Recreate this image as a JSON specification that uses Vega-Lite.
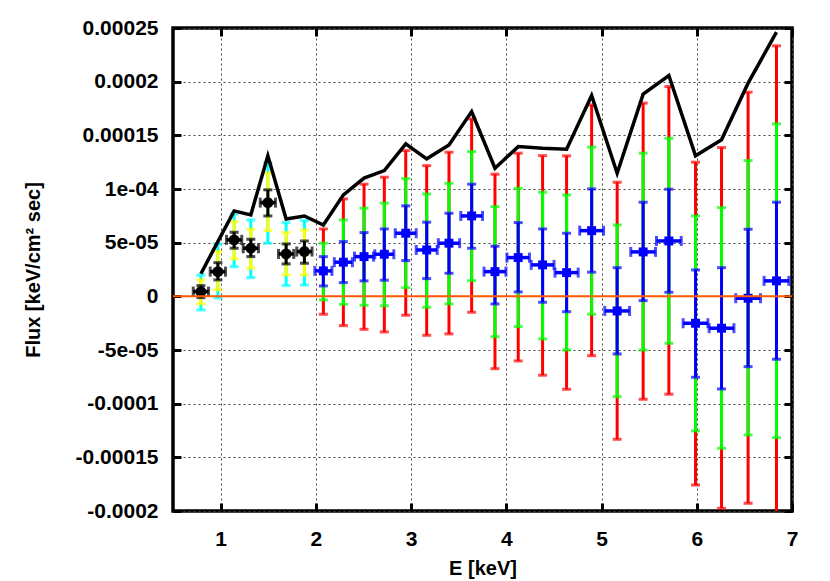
{
  "$schema": "https://vega.github.io/schema/vega-lite/v6.json",
  "width": 619,
  "height": 483,
  "autosize": "none",
  "padding": {"left": 173, "top": 28, "right": 38, "bottom": 70},
  "background": "white",
  "datasets": {
    "vbars": [
      {"E": 0.793, "lo": -1.27e-5, "hi": 1.99e-5, "s": "c"},
      {"E": 0.971, "lo": -0.15e-5, "hi": 4.88e-5, "s": "c"},
      {"E": 1.142, "lo": 2.77e-5, "hi": 7.68e-5, "s": "c"},
      {"E": 1.317, "lo": 1.74e-5, "hi": 7.12e-5, "s": "c"},
      {"E": 1.496, "lo": 4.95e-5, "hi": 12.46e-5, "s": "c"},
      {"E": 1.688, "lo": 1.00e-5, "hi": 6.87e-5, "s": "c"},
      {"E": 1.880, "lo": 1.06e-5, "hi": 7.06e-5, "s": "c"},
      {"E": 0.793, "lo": -0.71e-5, "hi": 1.53e-5, "s": "y"},
      {"E": 0.971, "lo": 0.60e-5, "hi": 4.17e-5, "s": "y"},
      {"E": 1.142, "lo": 3.49e-5, "hi": 6.96e-5, "s": "y"},
      {"E": 1.317, "lo": 2.62e-5, "hi": 6.25e-5, "s": "y"},
      {"E": 1.496, "lo": 6.12e-5, "hi": 11.50e-5, "s": "y"},
      {"E": 1.688, "lo": 1.99e-5, "hi": 5.94e-5, "s": "y"},
      {"E": 1.880, "lo": 1.99e-5, "hi": 6.19e-5, "s": "y"},
      {"E": 0.793, "lo": -0.12e-5, "hi": 1.00e-5, "s": "k"},
      {"E": 0.971, "lo": 1.53e-5, "hi": 3.14e-5, "s": "k"},
      {"E": 1.142, "lo": 4.48e-5, "hi": 5.97e-5, "s": "k"},
      {"E": 1.317, "lo": 3.70e-5, "hi": 5.32e-5, "s": "k"},
      {"E": 1.496, "lo": 7.49e-5, "hi": 9.92e-5, "s": "k"},
      {"E": 1.688, "lo": 3.02e-5, "hi": 4.88e-5, "s": "k"},
      {"E": 1.880, "lo": 3.08e-5, "hi": 5.16e-5, "s": "k"},
      {"E": 2.079, "lo": -1.67e-5, "hi": 6.28e-5, "s": "r"},
      {"E": 2.289, "lo": -2.73e-5, "hi": 9.08e-5, "s": "r"},
      {"E": 2.506, "lo": -3.07e-5, "hi": 10.45e-5, "s": "r"},
      {"E": 2.719, "lo": -3.32e-5, "hi": 11.10e-5, "s": "r"},
      {"E": 2.944, "lo": -1.76e-5, "hi": 13.58e-5, "s": "r"},
      {"E": 3.164, "lo": -3.63e-5, "hi": 12.18e-5, "s": "r"},
      {"E": 3.398, "lo": -3.50e-5, "hi": 13.43e-5, "s": "r"},
      {"E": 3.636, "lo": -1.48e-5, "hi": 16.53e-5, "s": "r"},
      {"E": 3.881, "lo": -6.74e-5, "hi": 11.38e-5, "s": "r"},
      {"E": 4.125, "lo": -6.02e-5, "hi": 13.34e-5, "s": "r"},
      {"E": 4.381, "lo": -7.35e-5, "hi": 13.11e-5, "s": "r"},
      {"E": 4.633, "lo": -8.66e-5, "hi": 13.09e-5, "s": "r"},
      {"E": 4.896, "lo": -5.53e-5, "hi": 17.84e-5, "s": "r"},
      {"E": 5.164, "lo": -13.32e-5, "hi": 10.63e-5, "s": "r"},
      {"E": 5.437, "lo": -9.59e-5, "hi": 18.00e-5, "s": "r"},
      {"E": 5.707, "lo": -9.12e-5, "hi": 19.54e-5, "s": "r"},
      {"E": 5.987, "lo": -17.58e-5, "hi": 12.50e-5, "s": "r"},
      {"E": 6.260, "lo": -19.75e-5, "hi": 13.86e-5, "s": "r"},
      {"E": 6.539, "lo": -19.28e-5, "hi": 19.02e-5, "s": "r"},
      {"E": 6.837, "lo": -20.46e-5, "hi": 23.34e-5, "s": "r"},
      {"E": 2.079, "lo": -0.34e-5, "hi": 4.95e-5, "s": "g"},
      {"E": 2.289, "lo": -0.74e-5, "hi": 7.12e-5, "s": "g"},
      {"E": 2.506, "lo": -0.83e-5, "hi": 8.21e-5, "s": "g"},
      {"E": 2.719, "lo": -0.89e-5, "hi": 8.68e-5, "s": "g"},
      {"E": 2.944, "lo": 0.81e-5, "hi": 10.97e-5, "s": "g"},
      {"E": 3.164, "lo": -1.02e-5, "hi": 9.54e-5, "s": "g"},
      {"E": 3.398, "lo": -0.71e-5, "hi": 10.54e-5, "s": "g"},
      {"E": 3.636, "lo": 1.46e-5, "hi": 13.49e-5, "s": "g"},
      {"E": 3.881, "lo": -3.76e-5, "hi": 8.36e-5, "s": "g"},
      {"E": 4.125, "lo": -2.82e-5, "hi": 10.07e-5, "s": "g"},
      {"E": 4.381, "lo": -3.97e-5, "hi": 9.70e-5, "s": "g"},
      {"E": 4.633, "lo": -5.00e-5, "hi": 9.45e-5, "s": "g"},
      {"E": 4.896, "lo": -1.67e-5, "hi": 13.90e-5, "s": "g"},
      {"E": 5.164, "lo": -9.35e-5, "hi": 6.65e-5, "s": "g"},
      {"E": 5.437, "lo": -5.00e-5, "hi": 13.34e-5, "s": "g"},
      {"E": 5.707, "lo": -4.37e-5, "hi": 14.73e-5, "s": "g"},
      {"E": 5.987, "lo": -12.54e-5, "hi": 7.49e-5, "s": "g"},
      {"E": 6.260, "lo": -14.16e-5, "hi": 8.27e-5, "s": "g"},
      {"E": 6.539, "lo": -12.92e-5, "hi": 12.65e-5, "s": "g"},
      {"E": 6.837, "lo": -13.17e-5, "hi": 16.07e-5, "s": "g"},
      {"E": 2.079, "lo": 0.97e-5, "hi": 3.70e-5, "s": "b"},
      {"E": 2.289, "lo": 1.28e-5, "hi": 5.10e-5, "s": "b"},
      {"E": 2.506, "lo": 1.44e-5, "hi": 5.94e-5, "s": "b"},
      {"E": 2.719, "lo": 1.50e-5, "hi": 6.28e-5, "s": "b"},
      {"E": 2.944, "lo": 3.33e-5, "hi": 8.43e-5, "s": "b"},
      {"E": 3.164, "lo": 1.65e-5, "hi": 6.91e-5, "s": "b"},
      {"E": 3.398, "lo": 2.15e-5, "hi": 7.74e-5, "s": "b"},
      {"E": 3.636, "lo": 4.48e-5, "hi": 10.45e-5, "s": "b"},
      {"E": 3.881, "lo": -0.71e-5, "hi": 4.67e-5, "s": "b"},
      {"E": 4.125, "lo": 0.41e-5, "hi": 6.87e-5, "s": "b"},
      {"E": 4.381, "lo": -0.55e-5, "hi": 6.28e-5, "s": "b"},
      {"E": 4.633, "lo": -1.43e-5, "hi": 5.88e-5, "s": "b"},
      {"E": 4.896, "lo": 2.25e-5, "hi": 10.01e-5, "s": "b"},
      {"E": 5.164, "lo": -5.37e-5, "hi": 2.67e-5, "s": "b"},
      {"E": 5.437, "lo": -0.40e-5, "hi": 8.77e-5, "s": "b"},
      {"E": 5.707, "lo": 0.38e-5, "hi": 9.98e-5, "s": "b"},
      {"E": 5.987, "lo": -7.54e-5, "hi": 2.46e-5, "s": "b"},
      {"E": 6.260, "lo": -8.63e-5, "hi": 2.67e-5, "s": "b"},
      {"E": 6.539, "lo": -6.55e-5, "hi": 6.25e-5, "s": "b"},
      {"E": 6.837, "lo": -5.86e-5, "hi": 8.77e-5, "s": "b"}
    ],
    "pts": [
      {"E": 0.793, "Elo": 0.713, "Ehi": 0.873, "F": 0.44e-5, "s": "k"},
      {"E": 0.971, "Elo": 0.891, "Ehi": 1.051, "F": 2.30e-5, "s": "k"},
      {"E": 1.142, "Elo": 1.062, "Ehi": 1.222, "F": 5.26e-5, "s": "k"},
      {"E": 1.317, "Elo": 1.237, "Ehi": 1.397, "F": 4.48e-5, "s": "k"},
      {"E": 1.496, "Elo": 1.416, "Ehi": 1.576, "F": 8.73e-5, "s": "k"},
      {"E": 1.688, "Elo": 1.608, "Ehi": 1.768, "F": 3.95e-5, "s": "k"},
      {"E": 1.880, "Elo": 1.800, "Ehi": 1.960, "F": 4.17e-5, "s": "k"},
      {"E": 2.079, "Elo": 1.989, "Ehi": 2.169, "F": 2.37e-5, "s": "b"},
      {"E": 2.289, "Elo": 2.194, "Ehi": 2.384, "F": 3.18e-5, "s": "b"},
      {"E": 2.506, "Elo": 2.406, "Ehi": 2.606, "F": 3.70e-5, "s": "b"},
      {"E": 2.719, "Elo": 2.619, "Ehi": 2.819, "F": 3.92e-5, "s": "b"},
      {"E": 2.944, "Elo": 2.834, "Ehi": 3.054, "F": 5.88e-5, "s": "b"},
      {"E": 3.164, "Elo": 3.054, "Ehi": 3.274, "F": 4.32e-5, "s": "b"},
      {"E": 3.398, "Elo": 3.286, "Ehi": 3.510, "F": 4.95e-5, "s": "b"},
      {"E": 3.636, "Elo": 3.522, "Ehi": 3.750, "F": 7.49e-5, "s": "b"},
      {"E": 3.881, "Elo": 3.766, "Ehi": 3.996, "F": 2.30e-5, "s": "b"},
      {"E": 4.125, "Elo": 4.007, "Ehi": 4.243, "F": 3.61e-5, "s": "b"},
      {"E": 4.381, "Elo": 4.261, "Ehi": 4.501, "F": 2.93e-5, "s": "b"},
      {"E": 4.633, "Elo": 4.511, "Ehi": 4.755, "F": 2.21e-5, "s": "b"},
      {"E": 4.896, "Elo": 4.771, "Ehi": 5.021, "F": 6.12e-5, "s": "b"},
      {"E": 5.164, "Elo": 5.034, "Ehi": 5.294, "F": -1.36e-5, "s": "b"},
      {"E": 5.437, "Elo": 5.307, "Ehi": 5.567, "F": 4.14e-5, "s": "b"},
      {"E": 5.707, "Elo": 5.577, "Ehi": 5.837, "F": 5.16e-5, "s": "b"},
      {"E": 5.987, "Elo": 5.857, "Ehi": 6.117, "F": -2.51e-5, "s": "b"},
      {"E": 6.260, "Elo": 6.130, "Ehi": 6.390, "F": -2.97e-5, "s": "b"},
      {"E": 6.539, "Elo": 6.409, "Ehi": 6.669, "F": -0.18e-5, "s": "b"},
      {"E": 6.837, "Elo": 6.707, "Ehi": 6.967, "F": 1.44e-5, "s": "b"}
    ],
    "model": [
      {"E": 0.793, "F": 2.1e-5},
      {"E": 0.971, "F": 5.1e-5},
      {"E": 1.142, "F": 7.96e-5},
      {"E": 1.317, "F": 7.59e-5},
      {"E": 1.496, "F": 13.09e-5},
      {"E": 1.688, "F": 7.21e-5},
      {"E": 1.880, "F": 7.49e-5},
      {"E": 2.079, "F": 6.65e-5},
      {"E": 2.289, "F": 9.45e-5},
      {"E": 2.506, "F": 11.01e-5},
      {"E": 2.719, "F": 11.72e-5},
      {"E": 2.944, "F": 14.20e-5},
      {"E": 3.164, "F": 12.81e-5},
      {"E": 3.398, "F": 14.11e-5},
      {"E": 3.636, "F": 17.21e-5},
      {"E": 3.881, "F": 11.94e-5},
      {"E": 4.125, "F": 13.95e-5},
      {"E": 4.381, "F": 13.80e-5},
      {"E": 4.633, "F": 13.71e-5},
      {"E": 4.896, "F": 18.71e-5},
      {"E": 5.164, "F": 11.47e-5},
      {"E": 5.437, "F": 18.84e-5},
      {"E": 5.707, "F": 20.57e-5},
      {"E": 5.987, "F": 13.09e-5},
      {"E": 6.260, "F": 14.58e-5},
      {"E": 6.539, "F": 19.86e-5},
      {"E": 6.837, "F": 24.61e-5}
    ],
    "zero": [{"F": 0}]
  },
  "resolve": {"axis": {"x": "independent", "y": "independent"}},
  "layer": [
    {
      "data": {"name": "vbars"},
      "mark": {"type": "rule", "strokeWidth": 3, "clip": true},
      "encoding": {
        "x": {"field": "E", "type": "quantitative",
          "scale": {"domain": [0.5, 7], "nice": false, "zero": false},
          "axis": {"orient": "bottom", "values": [1, 2, 3, 4, 5, 6, 7], "title": "E [keV]",
            "grid": true, "ticks": true, "tickSize": -8, "labelPadding": 25, "domain": false, "titlePadding": 9}},
        "y": {"field": "lo", "type": "quantitative",
          "scale": {"domain": [-0.0002, 0.00025], "nice": false, "zero": false},
          "axis": {"orient": "left", "title": "Flux [keV/cm² sec]",
            "values": [-0.0002, -0.00015, -0.0001, -0.00005, 0, 0.00005, 0.0001, 0.00015, 0.0002, 0.00025],
            "labelExpr": "datum.value > 0.000225 ? '0.00025' : datum.value > 0.000175 ? '0.0002' : datum.value > 0.000125 ? '0.00015' : datum.value > 0.000075 ? '1e-04' : datum.value > 0.000025 ? '5e-05' : datum.value > -0.000025 ? '0' : datum.value > -0.000075 ? '-5e-05' : datum.value > -0.000125 ? '-0.0001' : datum.value > -0.000175 ? '-0.00015' : '-0.0002'",
            "grid": true, "ticks": true, "tickSize": -8, "labelPadding": 23, "domain": false, "titlePadding": 32}},
        "y2": {"field": "hi"},
        "color": {"field": "s", "type": "nominal", "legend": null,
          "scale": {"domain": ["c", "y", "k", "r", "g", "b"], "range": ["#00ffff", "#ffff00", "#000000", "#ff0000", "#00ff00", "#0000ff"]}}
      }
    },
    {
      "data": {"name": "vbars"},
      "transform": [{"fold": ["lo", "hi"], "as": ["end", "val"]}],
      "mark": {"type": "tick", "orient": "horizontal", "size": 9, "thickness": 3, "clip": true},
      "encoding": {
        "x": {"field": "E", "type": "quantitative", "scale": {"domain": [0.5, 7], "nice": false, "zero": false}, "axis": null},
        "y": {"field": "val", "type": "quantitative", "scale": {"domain": [-0.0002, 0.00025], "nice": false, "zero": false}, "axis": null},
        "color": {"field": "s", "type": "nominal", "legend": null,
          "scale": {"domain": ["c", "y", "k", "r", "g", "b"], "range": ["#00ffff", "#ffff00", "#000000", "#ff0000", "#00ff00", "#0000ff"]}}
      }
    },
    {
      "data": {"name": "pts"},
      "mark": {"type": "rule", "strokeWidth": 3.5, "clip": true},
      "encoding": {
        "x": {"field": "Elo", "type": "quantitative", "scale": {"domain": [0.5, 7], "nice": false, "zero": false}, "axis": null},
        "x2": {"field": "Ehi"},
        "y": {"field": "F", "type": "quantitative", "scale": {"domain": [-0.0002, 0.00025], "nice": false, "zero": false}, "axis": null},
        "color": {"field": "s", "type": "nominal", "legend": null,
          "scale": {"domain": ["c", "y", "k", "r", "g", "b"], "range": ["#00ffff", "#ffff00", "#000000", "#ff0000", "#00ff00", "#0000ff"]}}
      }
    },
    {
      "data": {"name": "pts"},
      "transform": [{"fold": ["Elo", "Ehi"], "as": ["end", "val"]}],
      "mark": {"type": "tick", "orient": "vertical", "size": 10, "thickness": 3, "clip": true},
      "encoding": {
        "x": {"field": "val", "type": "quantitative", "scale": {"domain": [0.5, 7], "nice": false, "zero": false}, "axis": null},
        "y": {"field": "F", "type": "quantitative", "scale": {"domain": [-0.0002, 0.00025], "nice": false, "zero": false}, "axis": null},
        "color": {"field": "s", "type": "nominal", "legend": null,
          "scale": {"domain": ["c", "y", "k", "r", "g", "b"], "range": ["#00ffff", "#ffff00", "#000000", "#ff0000", "#00ff00", "#0000ff"]}}
      }
    },
    {
      "data": {"name": "pts"},
      "mark": {"type": "point", "filled": true, "opacity": 1, "clip": true},
      "encoding": {
        "x": {"field": "E", "type": "quantitative", "scale": {"domain": [0.5, 7], "nice": false, "zero": false}, "axis": null},
        "y": {"field": "F", "type": "quantitative", "scale": {"domain": [-0.0002, 0.00025], "nice": false, "zero": false}, "axis": null},
        "shape": {"field": "s", "type": "nominal", "legend": null, "scale": {"domain": ["k", "b"], "range": ["circle", "square"]}},
        "size": {"field": "s", "type": "nominal", "legend": null, "scale": {"domain": ["k", "b"], "range": [120, 80]}},
        "color": {"field": "s", "type": "nominal", "legend": null,
          "scale": {"domain": ["c", "y", "k", "r", "g", "b"], "range": ["#00ffff", "#ffff00", "#000000", "#ff0000", "#00ff00", "#0000ff"]}}
      }
    },
    {
      "data": {"name": "zero"},
      "mark": {"type": "rule", "color": "#ff5a00", "strokeWidth": 2},
      "encoding": {
        "y": {"field": "F", "type": "quantitative", "scale": {"domain": [-0.0002, 0.00025], "nice": false, "zero": false}, "axis": null}
      }
    },
    {
      "data": {"name": "model"},
      "mark": {"type": "line", "color": "black", "strokeWidth": 3.5, "clip": true},
      "encoding": {
        "x": {"field": "E", "type": "quantitative", "scale": {"domain": [0.5, 7], "nice": false, "zero": false},
          "axis": {"orient": "top", "values": [1, 2, 3, 4, 5, 6, 7], "labels": false, "grid": false, "domain": false, "title": null, "ticks": true, "tickSize": -8}},
        "y": {"field": "F", "type": "quantitative", "scale": {"domain": [-0.0002, 0.00025], "nice": false, "zero": false},
          "axis": {"orient": "right", "values": [-0.0002, -0.00015, -0.0001, -0.00005, 0, 0.00005, 0.0001, 0.00015, 0.0002, 0.00025], "labels": false, "grid": false, "domain": false, "title": null, "ticks": true, "tickSize": -8}}
      }
    }
  ],
  "config": {
    "view": {"stroke": "black", "strokeWidth": 3.5},
    "axis": {
      "labelFont": "Liberation Sans", "labelFontWeight": "bold", "labelFontSize": 21, "labelColor": "black",
      "titleFont": "Liberation Sans", "titleFontWeight": "bold", "titleFontSize": 20, "titleColor": "black",
      "tickColor": "black", "tickWidth": 3,
      "gridColor": "#444444", "gridDash": [2, 3], "gridWidth": 1, "gridOpacity": 1,
      "labelOverlap": false, "labelFlush": false
    }
  }
}
